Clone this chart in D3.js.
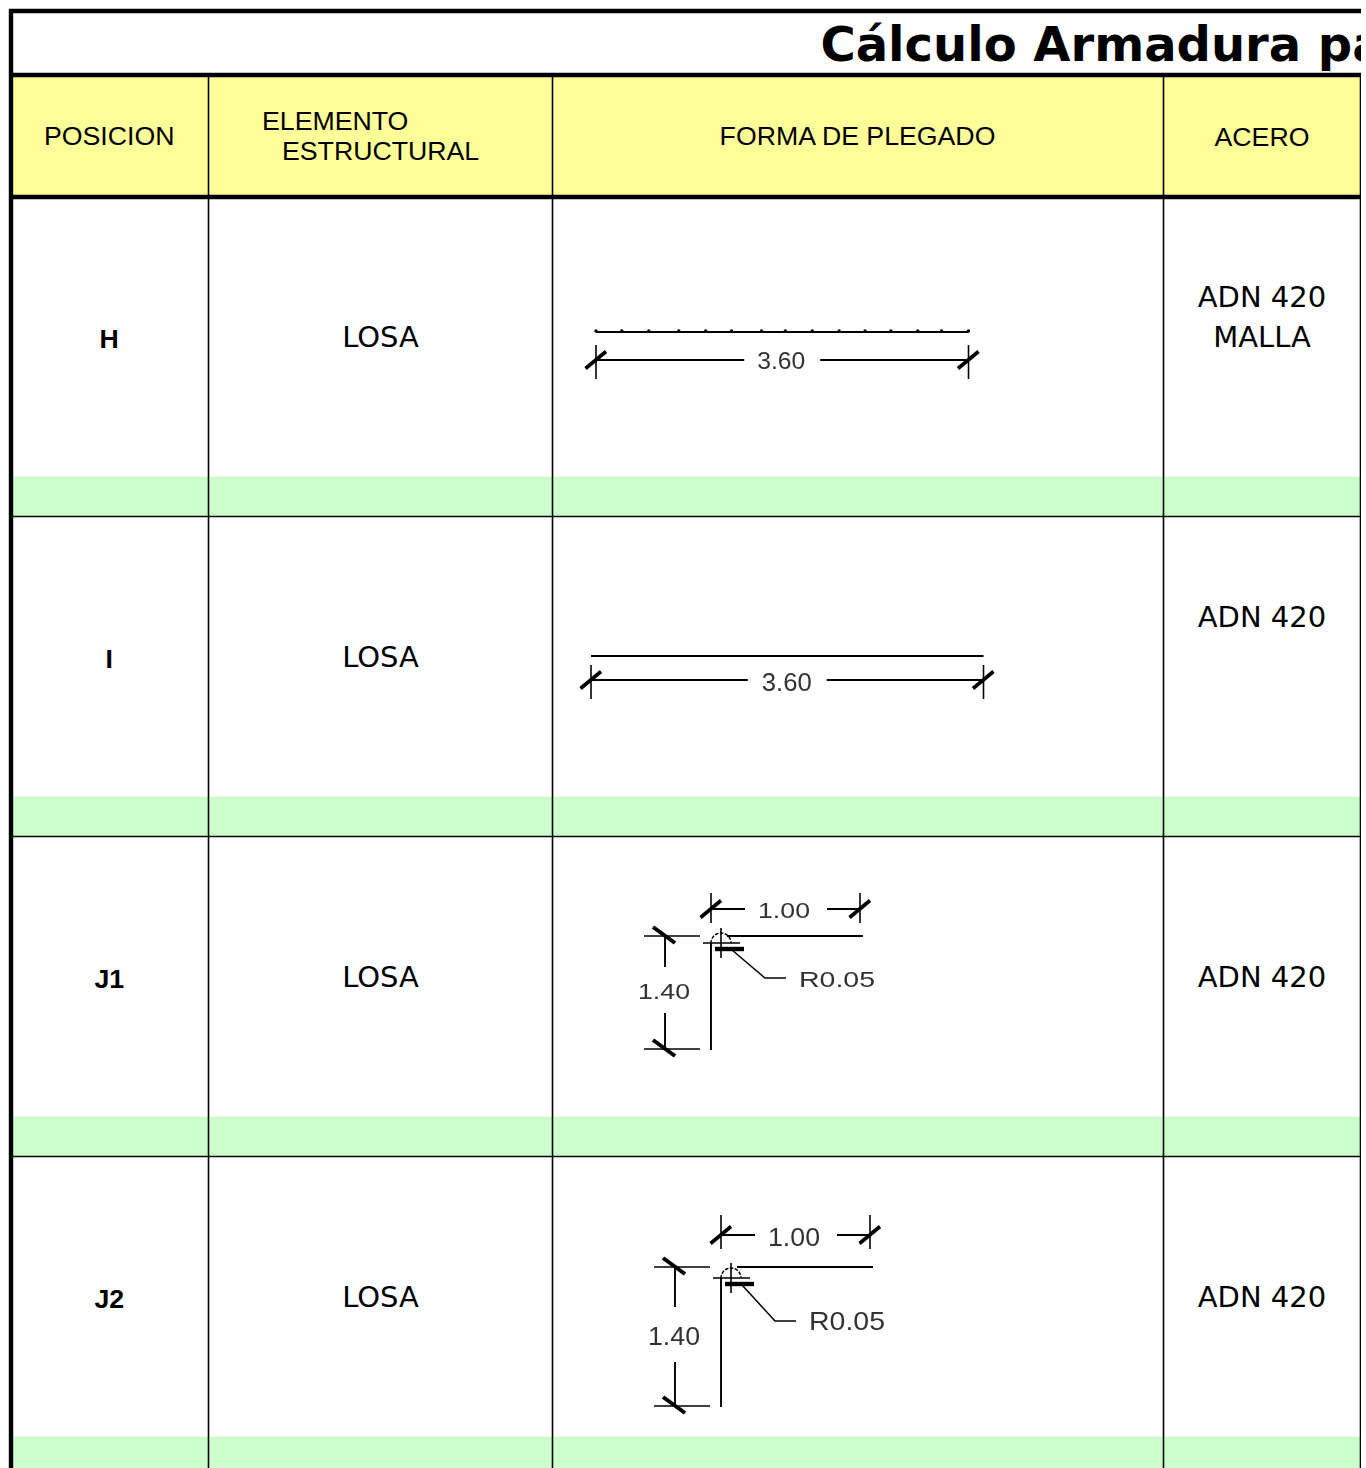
<!DOCTYPE html>
<html>
<head>
<meta charset="utf-8">
<script src="https://cdn.jsdelivr.net/npm/d3@7"></script>
<style>
html, body { margin: 0; padding: 0; background: #fff; }
svg { display: block; }
</style>
</head>
<body>
<div class="table"></div>
<script>
const titleText = "Cálculo Armadura para";
const posiciones = ["H", "I", "J1", "J2"];
const elementos = ["LOSA", "LOSA", "LOSA", "LOSA"];
const acero = [["ADN 420", "MALLA"], ["ADN 420", ""], ["", "ADN 420"], ["", "ADN 420"]];
const headers = ["POSICION", "ELEMENTO ESTRUCTURAL", "FORMA DE PLEGADO", "ACERO"];
const barLengths = [3.60, 3.60];
const barDots = [0, 0.25, 0.51, 0.80, 1.06, 1.31, 1.60, 1.83, 2.09, 2.35, 2.60, 2.85, 3.11, 3.34, 3.60];
const cornerWidth = 1.00;
const cornerHeight = 1.40;
const cornerRadius = "R0.05";

const yellow = "#ffff99";
const green = "#ccffcc";
const black = "#000";
const drawInk = "#000";
const labelInk = "#333";
const sans = "'Liberation Sans', Arial, sans-serif";
const deja = "'DejaVu Sans', sans-serif";

const svg = d3.select("div.table").append("svg")
    .attr("width", 1366)
    .attr("height", 1468);

const defs = svg.append("defs");
defs.append("clipPath").attr("id", "page")
    .append("rect").attr("x", 0).attr("y", 0).attr("width", 1361).attr("height", 1468);
defs.append("filter").attr("id", "soft")
    .append("feGaussianBlur").attr("stdDeviation", 0.45);

const page = svg.append("g").attr("clip-path", "url(#page)");

// column edges, left to right
const colEdges = [11, 208.5, 552.5, 1163.5, 1360.5];
const colMid = i => (colEdges[i] + colEdges[i + 1]) / 2;

const rowScale = d3.scaleBand()
    .domain(posiciones)
    .range([196.5, 196.5 + 320 * posiciones.length]);

// fills first, borders go on top
page.append("rect")
    .attr("x", 11).attr("y", 75)
    .attr("width", 1350).attr("height", 122)
    .attr("fill", yellow);

page.selectAll("rect.band")
    .data(posiciones)
    .enter().append("rect")
    .attr("class", "band")
    .attr("x", 11)
    .attr("y", d => rowScale(d) + rowScale.bandwidth() - 40)
    .attr("width", 1350)
    .attr("height", 40)
    .attr("fill", green);

page.selectAll("line.col")
    .data(colEdges.slice(1))
    .enter().append("line")
    .attr("class", "col")
    .attr("x1", d => d).attr("x2", d => d)
    .attr("y1", 75).attr("y2", 1468)
    .attr("stroke", black)
    .attr("stroke-width", 1.6);

page.selectAll("line.row")
    .data(posiciones)
    .enter().append("line")
    .attr("class", "row")
    .attr("x1", 11).attr("x2", 1361)
    .attr("y1", d => rowScale(d) + rowScale.bandwidth())
    .attr("y2", d => rowScale(d) + rowScale.bandwidth())
    .attr("stroke", black)
    .attr("stroke-width", 1.6);

[11, 75, 197].forEach(y => {
    page.append("line")
        .attr("x1", 9).attr("x2", 1361)
        .attr("y1", y).attr("y2", y)
        .attr("stroke", black)
        .attr("stroke-width", 4.4);
});
page.append("line")
    .attr("x1", 11).attr("x2", 11)
    .attr("y1", 9).attr("y2", 1468)
    .attr("stroke", black)
    .attr("stroke-width", 4.4);

// title, runs off the right edge like the original sheet
page.append("text")
    .text(titleText)
    .attr("x", 820.5)
    .attr("y", 61)
    .attr("font-family", deja)
    .attr("font-weight", "bold")
    .attr("font-size", 48)
    .attr("fill", black);

// header row
const headerText = (text, x, y, anchor) => {
    page.append("text")
        .text(text)
        .attr("x", x)
        .attr("y", y)
        .attr("text-anchor", anchor)
        .attr("font-family", sans)
        .attr("font-size", 26.7)
        .attr("fill", black);
};
headerText(headers[0], colMid(0) - 0.5, 145, "middle");
const elementoWords = headers[1].split(" ");
headerText(elementoWords[0], 262, 129.5, "start");
headerText(elementoWords[1], 282, 160, "start");
headerText(headers[2], colMid(2) - 0.5, 145, "middle");
headerText(headers[3], colMid(3), 146, "middle");

// body cells
page.selectAll("text.pos")
    .data(posiciones)
    .enter().append("text")
    .attr("class", "pos")
    .text(d => d)
    .attr("x", colMid(0) - 0.5)
    .attr("y", d => rowScale(d) + 151.5)
    .attr("text-anchor", "middle")
    .attr("font-family", sans)
    .attr("font-weight", "bold")
    .attr("font-size", 26.7)
    .attr("fill", black);

page.selectAll("text.elem")
    .data(elementos)
    .enter().append("text")
    .attr("class", "elem")
    .text(d => d)
    .attr("x", colMid(1))
    .attr("y", (d, i) => rowScale(posiciones[i]) + 150.5)
    .attr("text-anchor", "middle")
    .attr("font-family", deja)
    .attr("font-size", 29)
    .attr("fill", black);

acero.forEach((lines, i) => {
    lines.forEach((line, j) => {
        page.append("text")
            .text(line)
            .attr("x", colMid(3))
            .attr("y", rowScale(posiciones[i]) + 110.5 + j * 40)
            .attr("text-anchor", "middle")
            .attr("font-family", deja)
            .attr("font-size", 29)
            .attr("fill", black);
    });
});

// plegado drawings, a bit soft like the pasted cad images
const sketch = page.append("g").attr("filter", "url(#soft)");

const stroke = (x1, y1, x2, y2, width) => {
    sketch.append("line")
        .attr("x1", x1).attr("y1", y1)
        .attr("x2", x2).attr("y2", y2)
        .attr("stroke", drawInk)
        .attr("stroke-width", width);
};
const slash = (x, y) => {
    stroke(x - 10.5, y + 8.5, x + 10, y - 8.5, 3.6);
};
const label = (text, x, y, width, size) => {
    sketch.append("text")
        .text(text)
        .attr("x", x)
        .attr("y", y)
        .attr("textLength", width)
        .attr("lengthAdjust", "spacingAndGlyphs")
        .attr("font-family", sans)
        .attr("font-size", size)
        .attr("fill", labelInk);
};

const straightBar = (rowKey, length, x0, pxWidth, barY, opts) => {
    const top = rowScale(rowKey);
    const x = d3.scaleLinear().domain([0, length]).range([x0, x0 + pxWidth]);
    const mid = x(length / 2);
    stroke(x(0), top + barY, x(length), top + barY, 2);
    if (opts.dots) {
        sketch.selectAll("circle.dot")
            .data(barDots)
            .enter().append("circle")
            .attr("class", "dot")
            .attr("cx", d => x(d))
            .attr("cy", top + barY - 1)
            .attr("r", 1.7)
            .attr("fill", drawInk);
    }
    const dim = top + opts.dimY;
    stroke(x(0), dim, mid - opts.gap, dim, 1.9);
    stroke(mid + opts.gap, dim, x(length), dim, 1.9);
    [0, length].forEach(v => {
        stroke(x(v), dim - 15, x(v), dim + 19, 1.6);
        slash(x(v), dim);
    });
    label(d3.format(".2f")(length), mid + opts.textX, dim + opts.textY, opts.textW, opts.size);
};

const cornerBar = (rowKey, ox, oy, pxHeight, dimGap, tickTop, opts) => {
    const top = rowScale(rowKey);
    const x = d3.scaleLinear().domain([0, cornerWidth]).range([ox, ox + 149]);
    const y = d3.scaleLinear().domain([0, cornerHeight]).range([top + oy, top + oy + pxHeight]);
    const y0 = y(0);
    const yEnd = y(cornerHeight);
    const dimY = y0 - dimGap;

    // top dimension
    stroke(x(0), dimY, x(0) + 34, dimY, 1.9);
    stroke(x(1) - 33, dimY, x(1), dimY, 1.9);
    [0, 1].forEach(v => {
        stroke(x(v), y0 - tickTop, x(v), dimY + 14, 1.6);
        slash(x(v), dimY);
    });
    label(d3.format(".2f")(cornerWidth), x(0) + 47, dimY + opts.topText, 52, opts.size);

    // bar
    stroke(x(0) + 16, y0, x(1) + 3, y0, 1.9);
    stroke(x(0), y0 + opts.detailDrop, x(0), yEnd + 1, 1.9);

    // left dimension
    const dx = x(0) - 46;
    [y0, yEnd].forEach(v => {
        stroke(dx - 21, v, dx + 35, v, 1.6);
        stroke(dx - 12, v - 9, dx + 10, v + 7, 4);
    });
    stroke(dx, y0, dx, y0 + opts.gapTop, 1.9);
    stroke(dx, yEnd - opts.gapBottom, dx, yEnd, 1.9);
    label(d3.format(".2f")(cornerHeight), dx - 27, y0 + opts.sideText, 52, opts.size);

    // bend detail
    const cx = x(0) + 10;
    const cy = y0 + opts.detailDrop;
    sketch.append("path")
        .attr("d", d3.arc()({innerRadius: 10, outerRadius: 10, startAngle: -Math.PI / 2, endAngle: Math.PI / 2}))
        .attr("transform", `translate(${cx},${cy})`)
        .attr("fill", "none")
        .attr("stroke", drawInk)
        .attr("stroke-width", 1.4)
        .attr("stroke-dasharray", "3 2");
    stroke(x(0) - 8, cy, x(0) + 29, cy, 1.6);
    stroke(cx, cy - 15, cx, cy + 15, 1.6);
    stroke(cx - 6, cy + 6, cx + 23, cy + 6, 4.4);

    // leader to radius note
    sketch.append("path")
        .attr("d", d3.line()([[cx + 11, cy + 7], [cx + 44, cy + opts.leaderDrop], [cx + 65, cy + opts.leaderDrop]]))
        .attr("fill", "none")
        .attr("stroke", drawInk)
        .attr("stroke-width", 1.5);
    label(cornerRadius, cx + 78, cy + opts.leaderDrop + 9, 76, opts.size);
};

straightBar("H", barLengths[0], 596, 372.5, 135.5, {dots: true, dimY: 163.5, gap: 38, textX: -25, textY: 9, textW: 48, size: 24});
straightBar("I", barLengths[1], 591, 392.5, 139.5, {dots: false, dimY: 163.5, gap: 39.5, textX: -25.5, textY: 10.5, textW: 50, size: 26});
cornerBar("J1", 711, 99.5, 113, 27, 43, {size: 22, topText: 9, sideText: 63, gapTop: 31, gapBottom: 36, detailDrop: 7, leaderDrop: 35});
cornerBar("J2", 721, 110.5, 139, 32, 52, {size: 25, topText: 11, sideText: 78, gapTop: 40, gapBottom: 44, detailDrop: 11, leaderDrop: 43});
</script>
</body>
</html>
